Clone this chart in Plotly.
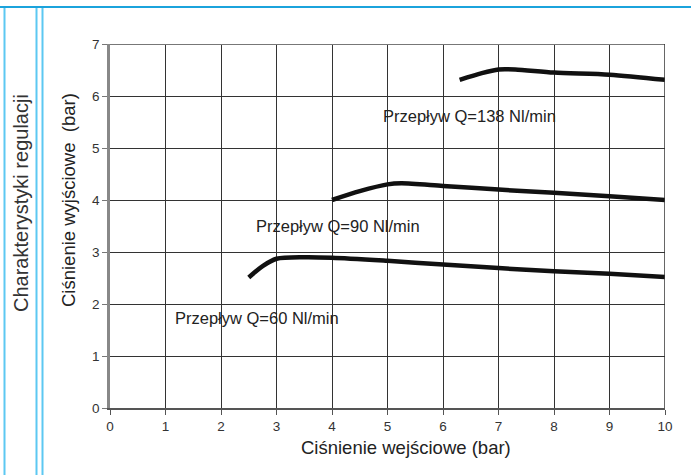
import plotly.graph_objects as go

# Data
q60_x = [2.5, 2.75, 3.0, 3.5, 4.0, 5.0, 6.0, 7.0, 8.0, 9.0, 10.0]
q60_y = [2.51, 2.73, 2.87, 2.9, 2.89, 2.83, 2.76, 2.69, 2.63, 2.58, 2.52]
q90_x = [4.0, 4.5, 5.0, 5.25, 6.0, 7.0, 8.0, 9.0, 10.0]
q90_y = [4.0, 4.17, 4.3, 4.32, 4.27, 4.2, 4.14, 4.07, 4.0]
q138_x = [6.3, 6.7, 7.0, 7.3, 8.0, 9.0, 10.0]
q138_y = [6.31, 6.44, 6.51, 6.51, 6.45, 6.41, 6.31]

labels = ["Przepływ Q=60 Nl/min", "Przepływ Q=90 Nl/min", "Przepływ Q=138 Nl/min"]
label_x = [1.14, 2.6, 4.88]
label_y = [1.73, 3.5, 5.62]

x_ticks = list(range(0, 11))
y_ticks = list(range(0, 8))

W, H = 691, 475
L, R, T, B = 110, 665, 44, 408


def px(x):
    return (x - L) / (R - L)


def py(y):
    return (B - y) / (B - T)


fig = go.Figure()
for xs, ys in [(q60_x, q60_y), (q90_x, q90_y), (q138_x, q138_y)]:
    fig.add_trace(go.Scatter(x=xs, y=ys, mode="lines",
                             line=dict(color="#111111", width=4.5, shape="spline", smoothing=0.8),
                             showlegend=False, hoverinfo="skip"))

font = "Liberation Sans, Arial, sans-serif"

annotations = []
for t, x, y in zip(labels, label_x, label_y):
    annotations.append(dict(x=x, y=y, xref="x", yref="y", text=t, showarrow=False,
                            xanchor="left", yanchor="middle",
                            font=dict(family=font, size=16.5, color="#222222")))
annotations.append(dict(x=px(406), y=py(447), xref="paper", yref="paper",
                        text="Ciśnienie wejściowe (bar)", showarrow=False,
                        xanchor="center", yanchor="middle",
                        font=dict(family=font, size=18.5, color="#222222")))
annotations.append(dict(x=px(68), y=py(200), xref="paper", yref="paper",
                        text="Ciśnienie wyjściowe  (bar)", showarrow=False, textangle=-90,
                        xanchor="center", yanchor="middle",
                        font=dict(family=font, size=18.5, color="#222222")))
annotations.append(dict(x=px(21), y=py(203), xref="paper", yref="paper",
                        text="Charakterystyki regulacji", showarrow=False, textangle=-90,
                        xanchor="center", yanchor="middle",
                        font=dict(family=font, size=20, color="#333333")))

shapes = [
    dict(type="line", xref="paper", yref="paper", x0=px(0), x1=px(W), y0=py(7), y1=py(7),
         line=dict(color="#1ba3dc", width=2)),
]
for xv in [4.5, 36.5, 42.5]:
    shapes.append(dict(type="line", xref="paper", yref="paper", x0=px(xv), x1=px(xv),
                       y0=py(8), y1=py(H + 5), line=dict(color="#5cc8f2", width=2)))
# border of plot: top and right
shapes.append(dict(type="line", xref="x", yref="y", x0=0, x1=10, y0=7, y1=7,
                   line=dict(color="#777777", width=2)))
shapes.append(dict(type="line", xref="x", yref="y", x0=10, x1=10, y0=0, y1=7,
                   line=dict(color="#333333", width=1.5)))

fig.update_layout(
    width=W, height=H,
    margin=dict(l=L, r=W - R, t=T, b=H - B),
    paper_bgcolor="white", plot_bgcolor="white",
    annotations=annotations, shapes=shapes,
    xaxis=dict(range=[0, 10], tickvals=x_ticks, showgrid=True, gridcolor="#333333", gridwidth=1,
               zeroline=False, showline=True, linecolor="#555555", linewidth=1.5,
               ticks="outside", ticklen=5, tickcolor="#555555",
               tickfont=dict(family=font, size=13.5, color="#333333")),
    yaxis=dict(range=[0, 7], tickvals=y_ticks, showgrid=True, gridcolor="#333333", gridwidth=1,
               zeroline=False, showline=True, linecolor="#888888", linewidth=2.5,
               ticks="outside", ticklen=5, tickcolor="#777777",
               tickfont=dict(family=font, size=13.5, color="#333333")),
)

fig.write_html("out.html", config={"displayModeBar": False},
               post_script="document.body.style.margin='0';document.body.style.overflow='hidden';")
